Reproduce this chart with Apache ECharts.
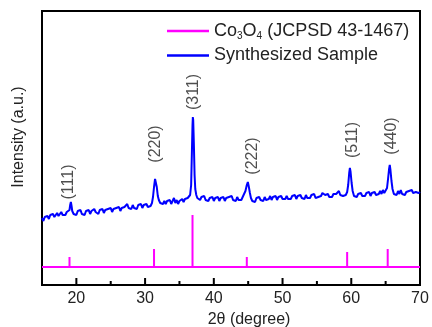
<!DOCTYPE html>
<html>
<head>
<meta charset="utf-8">
<script src="https://cdn.jsdelivr.net/npm/echarts@6/dist/echarts.min.js"></script>
<style>html,body{margin:0;padding:0;background:#fff;}#c{width:432px;height:327px;}</style>
</head>
<body>
<div id="c"></div>
<script>
// Co3O4 reference (JCPDS 43-1467) stick positions and heights (a.u.)
const refBaseline = 18;
const refPositions = [19.0, 31.3, 36.9, 44.8, 59.4, 65.3, 68.6];
const refHeights   = [28,   36,   70,   28,   33,   36,   20];

// Synthesized sample pattern: [2theta, intensity (a.u.)]
const sampleData = [
[15.0,67],[15.2,64],[15.4,68],[15.6,66],[15.8,69],[16.0,66],[16.2,70],[16.4,68],[16.6,71],[16.8,68],
[17.0,70],[17.2,72],[17.4,69],[17.6,71],[17.8,73],[18.0,70],[18.2,72],[18.4,70],[18.6,73],[18.8,71],
[19.0,75],[19.1,80],[19.2,83],[19.3,79],[19.4,74],[19.6,71],[19.8,73],[20.0,70],[20.2,74],[20.4,72],
[20.6,75],[20.8,71],[21.0,73],[21.2,70],[21.4,74],[21.6,72],[21.8,75],[22.0,71],[22.2,74],[22.4,72],
[22.6,76],[22.8,73],[23.0,74],[23.2,71],[23.4,75],[23.6,73],[23.8,76],[24.0,72],[24.2,75],[24.4,73],
[24.6,76],[24.8,74],[25.0,77],[25.2,73],[25.4,76],[25.6,74],[25.8,77],[26.0,75],[26.2,78],[26.4,74],
[26.6,77],[26.8,75],[27.0,78],[27.2,76],[27.4,81],[27.6,77],[27.8,79],[28.0,76],[28.2,80],[28.4,77],
[28.6,79],[28.8,76],[29.0,80],[29.2,78],[29.4,81],[29.6,77],[29.8,80],[30.0,78],[30.2,81],[30.4,78],
[30.6,80],[30.8,79],[31.0,82],[31.15,88],[31.3,98],[31.45,106],[31.55,108],[31.7,98],[31.85,89],[32.0,85],
[32.2,82],[32.4,84],[32.6,81],[32.8,84],[33.0,81],[33.2,84],[33.4,82],[33.6,85],[33.8,81],[34.0,83],
[34.2,87],[34.4,82],[34.6,85],[34.8,81],[35.0,84],[35.2,82],[35.4,86],[35.6,83],[35.8,86],[36.0,84],
[36.2,87],[36.4,86],[36.55,90],[36.7,100],[36.8,130],[36.9,160],[36.95,168],[37.0,165],[37.1,140],[37.2,110],
[37.3,96],[37.45,90],[37.6,87],[37.8,89],[38.0,85],[38.2,88],[38.4,86],[38.6,89],[38.8,85],[39.0,87],
[39.2,84],[39.4,87],[39.6,85],[39.8,88],[40.0,84],[40.2,87],[40.4,85],[40.6,88],[40.8,84],[41.0,87],
[41.2,85],[41.4,88],[41.6,84],[41.8,87],[42.0,85],[42.2,88],[42.4,86],[42.6,89],[42.8,85],[43.0,87],
[43.2,84],[43.4,88],[43.6,85],[43.8,87],[44.0,85],[44.2,88],[44.4,89],[44.6,94],[44.8,100],[44.95,103],
[45.1,98],[45.25,92],[45.4,87],[45.6,84],[45.8,86],[46.0,83],[46.2,87],[46.4,85],[46.6,88],[46.8,85],
[47.0,87],[47.2,84],[47.4,88],[47.6,85],[47.8,87],[48.0,86],[48.2,89],[48.4,85],[48.6,88],[48.8,86],
[49.0,89],[49.2,85],[49.4,88],[49.6,86],[49.8,89],[50.0,86],[50.2,88],[50.4,86],[50.6,89],[50.8,86],
[51.0,88],[51.2,86],[51.4,89],[51.6,87],[51.8,90],[52.0,86],[52.2,89],[52.4,87],[52.6,90],[52.8,87],
[53.0,89],[53.2,86],[53.4,90],[53.6,87],[53.8,89],[54.0,87],[54.2,90],[54.4,88],[54.6,91],[54.8,87],
[55.0,89],[55.2,88],[55.4,90],[55.6,89],[55.8,92],[56.0,93],[56.2,90],[56.4,88],[56.6,91],[56.8,88],
[57.0,90],[57.2,88],[57.4,91],[57.6,89],[57.8,91],[58.0,90],[58.2,94],[58.4,90],[58.6,92],[58.8,89],
[59.0,91],[59.2,90],[59.4,93],[59.55,100],[59.7,112],[59.8,117],[59.9,113],[60.05,102],[60.2,94],[60.4,89],
[60.6,91],[60.8,88],[61.0,91],[61.2,89],[61.4,92],[61.6,89],[61.8,91],[62.0,89],[62.2,92],[62.4,90],
[62.6,93],[62.8,89],[63.0,92],[63.2,90],[63.4,93],[63.6,90],[63.8,92],[64.0,91],[64.2,94],[64.4,91],
[64.6,95],[64.8,92],[65.0,94],[65.2,97],[65.35,106],[65.5,116],[65.6,120],[65.7,115],[65.85,104],[66.0,96],
[66.2,91],[66.4,93],[66.6,90],[66.8,94],[67.0,91],[67.2,95],[67.4,91],[67.6,93],[67.8,90],[68.0,93],
[68.2,91],[68.4,94],[68.6,92],[68.8,95],[69.0,92],[69.2,94],[69.4,93],[69.6,95],[69.8,92],[70.0,93]
];

// Peak labels (hkl) and their anchor positions [2theta, intensity]
const hklLabels = ['(111)', '(220)', '(311)', '(222)', '(511)', '(440)'];
const hklPos = [[18.9,103],[31.6,141],[37.1,193],[45.6,129],[60.2,145],[65.9,149]];

const xMajorTicks = [20, 30, 40, 50, 60, 70];
const xMinorTicks = [25, 35, 45, 55, 65];
const majorTickLen = 7;
const minorTickLen = 4;

// build reference stick line
const refData = [[15, refBaseline]];
refPositions.forEach((p, i) => {
  refData.push([p, refBaseline], [p, refHeights[i]], [p, refBaseline]);
});
refData.push([70, refBaseline]);

// inward tick marks drawn as short broken line segments on the value scale
const tickData = [];
xMajorTicks.forEach(v => { tickData.push([v, 0], [v, majorTickLen], '-'); });
xMinorTicks.forEach(v => { tickData.push([v, 0], [v, minorTickLen], '-'); });

const font = 'Liberation Sans, Arial, sans-serif';
const lineIcon = 'path://M0,0 L42,0 L42,2.5 L0,2.5 Z';
const chart = echarts.init(document.getElementById('c'));
chart.setOption({
  animation: false,
  backgroundColor: '#fff',
  grid: { left: 42, right: 12, top: 11, bottom: 42, outerBoundsMode: 'none', containLabel: false,
          show: true, borderColor: '#000', borderWidth: 2, backgroundColor: 'transparent' },
  legend: {
    orient: 'vertical', left: 167, top: 22, padding: 0, itemWidth: 42, itemHeight: 2.5, itemGap: 5,
    textStyle: {
      fontFamily: font, fontSize: 18, color: '#222',
      rich: { n: { fontFamily: font, fontSize: 18, color: '#222' }, s: { fontFamily: font, fontSize: 10, color: '#222', padding: [11, 0, 0, 0] } }
    },
    formatter: function (name) {
      return name === 'ref' ? '{n|Co}{s|3}{n|O}{s|4}{n| (JCPSD 43-1467)}' : '{n|Synthesized Sample}';
    },
    data: [{ name: 'ref', icon: lineIcon }, { name: 'sample', icon: lineIcon }]
  },
  xAxis: {
    type: 'value', min: 15, max: 70, interval: 5,
    name: '2θ (degree)', nameLocation: 'middle', nameGap: 21,
    nameTextStyle: { fontFamily: font, fontSize: 16, color: '#222', padding: [0, 0, 0, 36] },
    axisLine: { show: true, lineStyle: { color: '#000', width: 2 } },
    axisTick: { show: false },
    axisLabel: { fontFamily: font, fontSize: 16, color: '#222', margin: 6,
                 formatter: v => (xMajorTicks.indexOf(v) >= 0 ? String(v) : '') },
    splitLine: { show: false }
  },
  yAxis: {
    type: 'value', min: 0, max: 274,
    name: 'Intensity (a.u.)', nameLocation: 'middle', nameGap: 15,
    nameTextStyle: { fontFamily: font, fontSize: 16, color: '#222', padding: [0, 0, 0, 22] },
    axisLine: { show: false }, axisTick: { show: false }, axisLabel: { show: false }, splitLine: { show: false }
  },
  series: [{
    name: 'ref', type: 'line', data: refData, symbol: 'none',
    lineStyle: { color: '#ff00ff', width: 2 }, itemStyle: { color: '#ff00ff' }, z: 3
  }, {
    name: 'sample', type: 'line', data: sampleData, symbol: 'none',
    lineStyle: { color: '#0000ff', width: 2 }, itemStyle: { color: '#0000ff' }, z: 4
  }, {
    name: 'labels', type: 'scatter', symbolSize: 0, silent: true,
    data: hklPos.map((p, i) => ({ value: p, name: hklLabels[i] })),
    label: { show: true, position: 'inside', rotate: 90, formatter: p => p.name, fontFamily: font, fontSize: 16, color: '#222' }
  }, {
    name: 'ticks', type: 'line', data: tickData, symbol: 'none', connectNulls: false, silent: true,
    lineStyle: { color: '#000', width: 2 }, itemStyle: { color: '#000' }, z: 10
  }]
});
</script>
</body>
</html>
